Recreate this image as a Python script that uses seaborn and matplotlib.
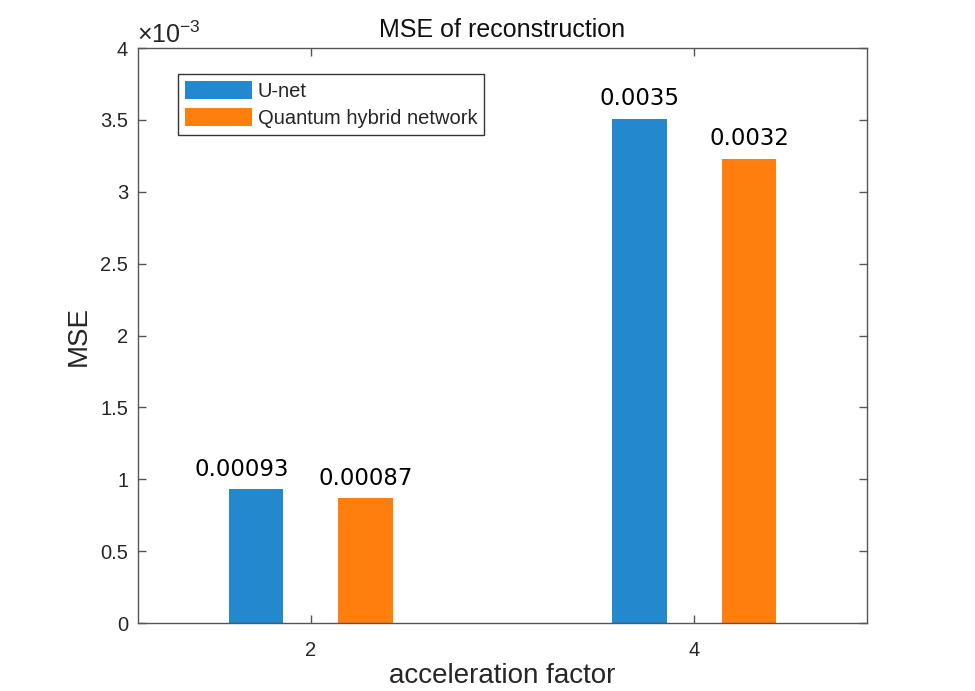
import numpy as np
import pandas as pd
import matplotlib
matplotlib.use("Agg")
import matplotlib.pyplot as plt
import seaborn as sns
from matplotlib.ticker import FuncFormatter

# values
factors = [2, 4]
unet_mse = [0.00093, 0.00351]
hybrid_mse = [0.00087, 0.00323]
unet_labels = ["0.00093", "0.0035"]
hybrid_labels = ["0.00087", "0.0032"]
models = ["U-net", "Quantum hybrid network"]
colors = ["#2488ce", "#ff7f0e"]

df = pd.DataFrame({
    "factor": factors * 2,
    "mse": unet_mse + hybrid_mse,
    "model": [models[0]] * len(factors) + [models[1]] * len(factors),
})

sns.set_style("white")
plt.rcParams["font.family"] = ["Liberation Sans", "DejaVu Sans"]
plt.rcParams["mathtext.fontset"] = "custom"
plt.rcParams["mathtext.rm"] = "Liberation Sans"

fig = plt.figure(figsize=(9.75, 6.91), dpi=100)
ax = fig.add_axes([0.1415, 0.0984, 0.7477, 0.832])

sns.barplot(data=df, x="factor", y="mse", hue="model", hue_order=models,
            palette=colors, native_scale=True, width=0.57, gap=0.5,
            saturation=1, linewidth=0, ax=ax)

# value labels above bars
for cont, labs in zip(ax.containers, [unet_labels, hybrid_labels]):
    anns = ax.bar_label(cont, labels=labs, padding=6, fontsize=16.5,
                        family="DejaVu Sans", color="black")
    if labs is unet_labels:
        anns[0].xyann = (-10, 6)

ax.set_xlim(1.1, 4.9)
ax.set_ylim(0, 0.004)
ax.set_xticks(factors)
ax.set_yticks(np.arange(0, 0.00401, 0.0005))
ax.yaxis.set_major_formatter(FuncFormatter(lambda v, _: f"{v * 1e3:g}"))
ax.text(-0.002, 1.0, r"$\times\mathregular{10^{-3}}$", transform=ax.transAxes,
        ha="left", va="bottom", fontsize=18, color="#262626")

for sp in ax.spines.values():
    sp.set_visible(True)
    sp.set_color("#555555")
    sp.set_linewidth(1)
ax.tick_params(direction="in", length=6, width=1, color="#555555",
               top=True, right=True, bottom=True, left=True,
               labelsize=14.5, labelcolor="#262626", pad=7)
ax.tick_params(axis="x", pad=13)

ax.set_title("MSE of reconstruction", fontsize=18, color="#111111", pad=8)
ax.set_xlabel("acceleration factor", fontsize=20, color="#262626", labelpad=2)
ax.set_ylabel("MSE", fontsize=20, color="#262626", labelpad=6)

sns.move_legend(ax, "upper left", bbox_to_anchor=(0.055, 0.955), title=None,
                frameon=True, fancybox=False, fontsize=14.5, handlelength=3.3,
                handleheight=1.0, labelspacing=0.35, handletextpad=0.3,
                borderpad=0.35, borderaxespad=0, edgecolor="#333333",
                framealpha=1)
ax.get_legend().get_frame().set_linewidth(1)

fig.savefig("out.png", dpi=100)
